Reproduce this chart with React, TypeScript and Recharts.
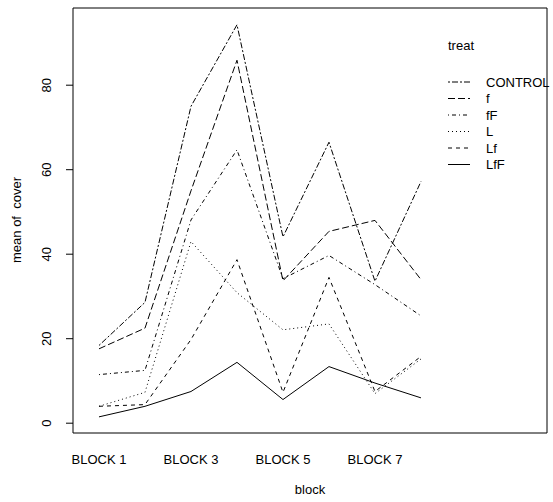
import React from 'react';
import {
    LineChart,
    Line,
    XAxis,
    YAxis,
    ReferenceArea,
    Customized
} from 'recharts';

const blocks = ['BLOCK 1', 'BLOCK 2', 'BLOCK 3', 'BLOCK 4', 'BLOCK 5', 'BLOCK 6', 'BLOCK 7', 'BLOCK 8'];
const xTicks = [1, 3, 5, 7];
const yTicks = [0, 20, 40, 60, 80];

const control = [18.4, 28.6, 75.0, 94.3, 44.1, 66.5, 33.6, 57.2];
const fSeries = [17.6, 22.5, 55.0, 85.9, 33.7, 45.4, 48.0, 34.0];
const fFSeries = [11.5, 12.5, 48.1, 64.7, 34.2, 39.7, 32.8, 25.4];
const lSeries = [4.0, 7.3, 43.0, 30.9, 22.1, 23.5, 7.0, 15.2];
const lfSeries = [4.0, 4.4, 19.8, 38.7, 7.3, 34.5, 7.5, 15.8];
const lfFSeries = [1.5, 4.0, 7.5, 14.4, 5.6, 13.4, 9.5, 6.0];

const treats = ['CONTROL', 'f', 'fF', 'L', 'Lf', 'LfF'];
const seriesValues = [control, fSeries, fFSeries, lSeries, lfSeries, lfFSeries];
// R lty 6..1
const dashes = ['2 2 6 2', '7 3', '1 3 4 3', '1 3', '4 4', ''];

const xDomain: [number, number] = [0.435, 10.74];
const yDomain: [number, number] = [-2.32, 98.27];

const data = blocks.map((b, i) => {
    const row: any = { x: i + 1, block: b };
    treats.forEach((t, j) => { row[t] = seriesValues[j][i]; });
    return row;
});

const font = '"Liberation Sans", Arial, sans-serif';

const YTick = ({ y, payload }: any) => (
    <text
        x={0}
        y={0}
        transform={`translate(51, ${y}) rotate(-90)`}
        textAnchor="middle"
        fontSize={13}
        fontFamily={font}
        fill="#000"
    >
        {payload.value}
    </text>
);

const LegendBox = () => (
    <g fontFamily={font} fontSize={13} fill="#000">
        <text x={448} y={50}>treat</text>
        {treats.map((t, i) => {
            const y = 82 + i * 16.5;
            return (
                <g key={t}>
                    <line x1={448} x2={470} y1={y} y2={y} stroke="#000" strokeWidth={1} strokeDasharray={dashes[i] || undefined} />
                    <text x={486} y={y + 4.5}>{t}</text>
                </g>
            );
        })}
    </g>
);

export default function App() {
    return (
        <div style={{ position: 'absolute', left: 0, top: 0, background: '#fff' }}>
            <LineChart width={553} height={502} data={data} margin={{ top: 8, right: 6, bottom: 0, left: 0 }}>
                <XAxis
                    dataKey="x"
                    type="number"
                    domain={xDomain}
                    ticks={xTicks}
                    allowDataOverflow
                    tickFormatter={(v: number) => blocks[v - 1]}
                    tickLine={false}
                    axisLine={false}
                    tickSize={6}
                    tickMargin={16}
                    height={69}
                    interval={0}
                    tick={{ fill: '#000', fontSize: 13, fontFamily: font }}
                    label={{ value: 'block', position: 'insideBottom', offset: 8, fill: '#000', fontSize: 13, fontFamily: font }}
                />
                <YAxis
                    type="number"
                    domain={yDomain}
                    ticks={yTicks}
                    allowDataOverflow
                    width={73}
                    axisLine={false}
                    tickLine={{ stroke: '#000' }}
                    tickSize={7}
                    tick={<YTick />}
                    interval={0}
                    label={{
                        content: () => (
                            <text
                                transform="translate(21, 220) rotate(-90)"
                                textAnchor="middle"
                                fontSize={13}
                                fontFamily={font}
                                fill="#000"
                                style={{ whiteSpace: 'pre' }}
                            >
                                {'mean of  cover'}
                            </text>
                        )
                    }}
                />
                <ReferenceArea
                    x1={xDomain[0]}
                    x2={xDomain[1]}
                    y1={yDomain[0]}
                    y2={yDomain[1]}
                    fill="none"
                    stroke="#000"
                    strokeWidth={1}
                />
                {treats.map((t, i) => (
                    <Line
                        key={t}
                        dataKey={t}
                        stroke="#000"
                        strokeWidth={1}
                        strokeDasharray={dashes[i] || undefined}
                        dot={false}
                        activeDot={false}
                        isAnimationActive={false}
                    />
                ))}
                <Customized component={LegendBox} />
            </LineChart>
        </div>
    );
}
